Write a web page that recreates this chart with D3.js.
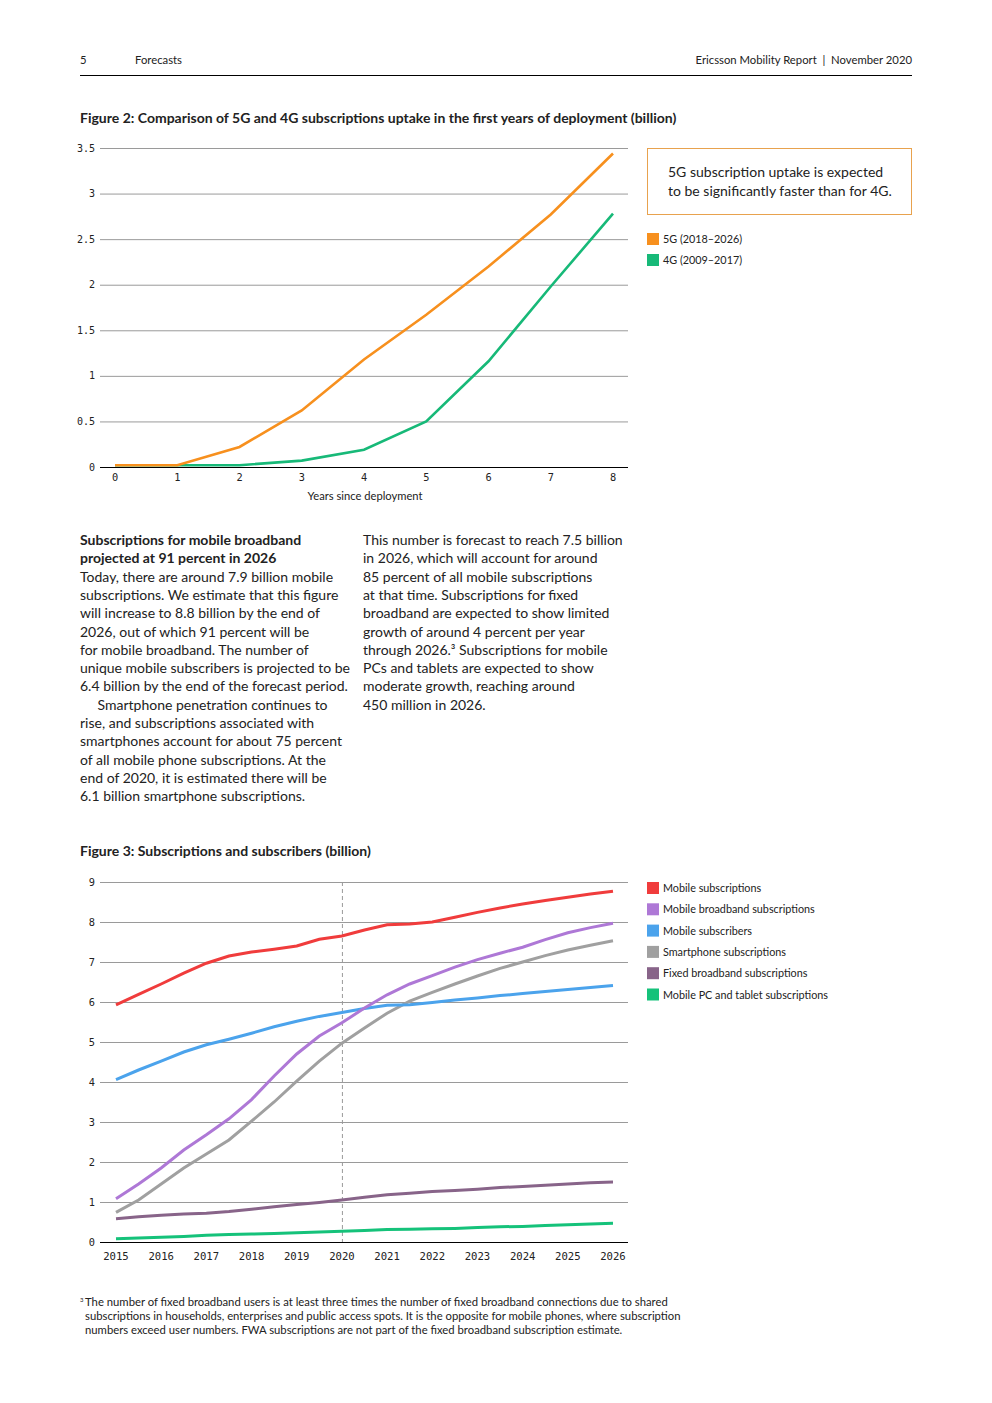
<!DOCTYPE html>
<html><head><meta charset="utf-8">
<script src="https://cdn.jsdelivr.net/npm/d3@7"></script>
<style>
body{margin:0;background:#fff;}
svg text{font-family:"Lato","Noto Sans",sans-serif;fill:#222;}
.mono{font-family:"DejaVu Sans Mono",monospace !important;}
</style></head>
<body><svg id="page" width="992" height="1403"></svg>
<script>
// ---------- Figure 2 data ----------
const fig2Years = [0,1,2,3,4,5,6,7,8];
const fig2_5G = [0.02,0.02,0.22,0.62,1.18,1.67,2.20,2.77,3.44];
const fig2_4G = [0.02,0.02,0.02,0.07,0.19,0.50,1.16,1.98,2.78];
const fig2YTicks = [0,0.5,1,1.5,2,2.5,3,3.5];
const fig2Names = ["5G (2018\u20132026)","4G (2009\u20132017)"];

// ---------- Figure 3 data (half-year readings) ----------
const fig3Periods = [2015,2015.5,2016,2016.5,2017,2017.5,2018,2018.5,2019,2019.5,2020,2020.5,2021,2021.5,2022,2022.5,2023,2023.5,2024,2024.5,2025,2025.5,2026];
const mobileSubs     = [5.93,6.19,6.45,6.72,6.97,7.15,7.25,7.32,7.40,7.57,7.65,7.80,7.93,7.95,8.00,8.12,8.24,8.35,8.45,8.54,8.62,8.70,8.77];
const mobileBB       = [1.08,1.45,1.85,2.30,2.68,3.08,3.56,4.15,4.70,5.15,5.48,5.85,6.18,6.45,6.66,6.87,7.06,7.22,7.37,7.56,7.73,7.86,7.97];
const mobileSubscr   = [4.06,4.30,4.52,4.75,4.93,5.07,5.22,5.38,5.52,5.64,5.74,5.84,5.92,5.93,5.99,6.05,6.10,6.16,6.21,6.26,6.31,6.36,6.41];
const smartphone     = [0.74,1.05,1.45,1.85,2.20,2.55,3.02,3.50,4.02,4.52,4.97,5.35,5.72,6.02,6.24,6.45,6.65,6.84,7.00,7.16,7.30,7.42,7.53];
const fixedBB        = [0.58,0.63,0.67,0.70,0.72,0.76,0.82,0.88,0.94,0.99,1.05,1.12,1.18,1.22,1.26,1.29,1.32,1.36,1.39,1.42,1.45,1.48,1.50];
const pcTablet       = [0.08,0.10,0.12,0.14,0.17,0.19,0.20,0.21,0.23,0.25,0.27,0.29,0.31,0.32,0.33,0.34,0.36,0.38,0.39,0.41,0.43,0.45,0.47];
const fig3Names = ["Mobile subscriptions","Mobile broadband subscriptions","Mobile subscribers","Smartphone subscriptions","Fixed broadband subscriptions","Mobile PC and tablet subscriptions"];
const fig3XTicks = [2015,2016,2017,2018,2019,2020,2021,2022,2023,2024,2025,2026];
const fig3YTicks = [0,1,2,3,4,5,6,7,8,9];

// ---------- Text ----------
const leftHead = ["Subscriptions for mobile broadband","projected at 91 percent in 2026"];
const leftBody = ["Today, there are around 7.9 billion mobile","subscriptions. We estimate that this figure","will increase to 8.8 billion by the end of","2026, out of which 91 percent will be","for mobile broadband. The number of","unique mobile subscribers is projected to be","6.4 billion by the end of the forecast period.","\u2003\u2002Smartphone penetration continues to","rise, and subscriptions associated with","smartphones account for about 75 percent","of all mobile phone subscriptions. At the","end of 2020, it is estimated there will be","6.1 billion smartphone subscriptions."];
const rightBody = ["This number is forecast to reach 7.5 billion","in 2026, which will account for around","85 percent of all mobile subscriptions","at that time. Subscriptions for fixed","broadband are expected to show limited","growth of around 4 percent per year","through 2026.\u00b3 Subscriptions for mobile","PCs and tablets are expected to show","moderate growth, reaching around","450 million in 2026."];
const footnote = ["The number of fixed broadband users is at least three times the number of fixed broadband connections due to shared","subscriptions in households, enterprises and public access spots. It is the opposite for mobile phones, where subscription","numbers exceed user numbers. FWA subscriptions are not part of the fixed broadband subscription estimate."];

const svg = d3.select("#page");

// Header
svg.append("text").attr("x",80).attr("y",64).attr("font-size",11.3).text("5");
svg.append("text").attr("x",135).attr("y",64).attr("font-size",11.3).text("Forecasts");
svg.append("text").attr("x",912).attr("y",64).attr("font-size",11.3).attr("text-anchor","end").attr("xml:space","preserve").text("Ericsson Mobility Report  |  November 2020");
svg.append("line").attr("x1",80).attr("x2",912).attr("y1",75.5).attr("y2",75.5).attr("stroke","#000").attr("stroke-width",1);

// ---------- Figure 2 ----------
svg.append("text").attr("x",80).attr("y",123).attr("font-size",14).attr("font-weight","bold").text("Figure 2: Comparison of 5G and 4G subscriptions uptake in the first years of deployment (billion)");
const x2 = d3.scaleLinear().domain([0,8]).range([115,613]);
const y2 = d3.scaleLinear().domain([0,3.5]).range([467,148]);
const g2 = svg.append("g");
g2.selectAll("line.grid").data(fig2YTicks.filter(d=>d>0)).join("line")
  .attr("x1",100).attr("x2",628).attr("y1",d=>y2(d)+0.5).attr("y2",d=>y2(d)+0.5)
  .attr("stroke","#9a9a9a").attr("stroke-width",1);
g2.selectAll("text.yl").data(fig2YTicks).join("text").attr("class","mono")
  .attr("x",95).attr("y",d=>y2(d)+3.5).attr("text-anchor","end").attr("font-size",10).attr("fill","#333")
  .text(d=>d3.format("")(d));
g2.selectAll("text.xl").data(fig2Years).join("text").attr("class","mono")
  .attr("x",d=>x2(d)).attr("y",481).attr("text-anchor","middle").attr("font-size",10.3).attr("fill","#333")
  .text(d=>d);
g2.append("text").attr("x",365).attr("y",500).attr("text-anchor","middle").attr("font-size",11.2).text("Years since deployment");
const line2 = d3.line().x((d,i)=>x2(fig2Years[i])).y(d=>y2(d));
g2.append("path").datum(fig2_4G).attr("d",line2).attr("fill","none").attr("stroke","#17b978").attr("stroke-width",2.6);
g2.append("path").datum(fig2_5G).attr("d",line2).attr("fill","none").attr("stroke","#f7901e").attr("stroke-width",2.6);
g2.append("line").attr("x1",100).attr("x2",628).attr("y1",467.5).attr("y2",467.5).attr("stroke","#000").attr("stroke-width",1);

// annotation box
svg.append("rect").attr("x",647.5).attr("y",148.5).attr("width",264).attr("height",66).attr("fill","none").attr("stroke","#e8a24e").attr("stroke-width",1);
svg.append("text").attr("x",668).attr("y",177).attr("font-size",14).text("5G subscription uptake is expected");
svg.append("text").attr("x",668).attr("y",196).attr("font-size",14).text("to be significantly faster than for 4G.");
const leg2Colors = ["#f7901e","#17b978"];
fig2Names.forEach((n,i)=>{
  svg.append("rect").attr("x",647).attr("y",233+i*21).attr("width",12).attr("height",12).attr("fill",leg2Colors[i]);
  svg.append("text").attr("x",663).attr("y",243+i*21).attr("font-size",10.8).text(n);
});

// ---------- Body text ----------
const lh = 18.3;
leftHead.forEach((t,i)=>svg.append("text").attr("x",80).attr("y",545+i*lh).attr("font-size",14).attr("font-weight","bold").text(t));
leftBody.forEach((t,i)=>svg.append("text").attr("x",80).attr("y",545+(i+2)*lh).attr("font-size",14).attr("xml:space","preserve").text(t));
rightBody.forEach((t,i)=>svg.append("text").attr("x",363).attr("y",545+i*lh).attr("font-size",14).text(t));

// ---------- Figure 3 ----------
svg.append("text").attr("x",80).attr("y",856).attr("font-size",14).attr("font-weight","bold").text("Figure 3: Subscriptions and subscribers (billion)");
const x3 = d3.scaleLinear().domain([2015,2026]).range([116,613]);
const y3 = d3.scaleLinear().domain([0,9]).range([1242,882]);
const g3 = svg.append("g");
g3.selectAll("line.grid").data(fig3YTicks.filter(d=>d>0)).join("line")
  .attr("x1",100).attr("x2",628).attr("y1",d=>y3(d)+0.5).attr("y2",d=>y3(d)+0.5)
  .attr("stroke","#9a9a9a").attr("stroke-width",1);
g3.selectAll("text.yl").data(fig3YTicks).join("text").attr("class","mono")
  .attr("x",95).attr("y",d=>y3(d)+3.5).attr("text-anchor","end").attr("font-size",10.3).attr("fill","#333").text(d=>d);
g3.selectAll("text.xl").data(fig3XTicks).join("text").attr("class","mono")
  .attr("x",d=>x3(d)).attr("y",1260).attr("text-anchor","middle").attr("font-size",10.6).attr("fill","#333").text(d=>d);
g3.append("line").attr("x1",x3(2020)+0.5).attr("x2",x3(2020)+0.5).attr("y1",882).attr("y2",1242)
  .attr("stroke","#999").attr("stroke-dasharray","4,3").attr("stroke-width",1);
const series3 = [mobileSubs,mobileBB,mobileSubscr,smartphone,fixedBB,pcTablet];
const colors3 = ["#f03c3c","#ae78d6","#4ba3ec","#a0a0a0","#886489","#15c27a"];
const line3 = d3.line().x((d,i)=>x3(fig3Periods[i])).y(d=>y3(d));
const drawOrder = [5,4,3,2,1,0];
drawOrder.forEach(k=>{
  g3.append("path").datum(series3[k]).attr("d",line3).attr("fill","none").attr("stroke",colors3[k]).attr("stroke-width",3);
});
g3.append("line").attr("x1",100).attr("x2",628).attr("y1",1242.5).attr("y2",1242.5).attr("stroke","#000").attr("stroke-width",1);
fig3Names.forEach((n,i)=>{
  svg.append("rect").attr("x",647).attr("y",882+i*21.3).attr("width",12).attr("height",12).attr("fill",colors3[i]);
  svg.append("text").attr("x",663).attr("y",892+i*21.3).attr("font-size",10.8).text(n);
});

// Footnote
svg.append("text").attr("x",80).attr("y",1302).attr("font-size",6).text("3");
footnote.forEach((t,i)=>svg.append("text").attr("x",85).attr("y",1306+i*14).attr("font-size",11.3).text(t));
</script></body></html>
